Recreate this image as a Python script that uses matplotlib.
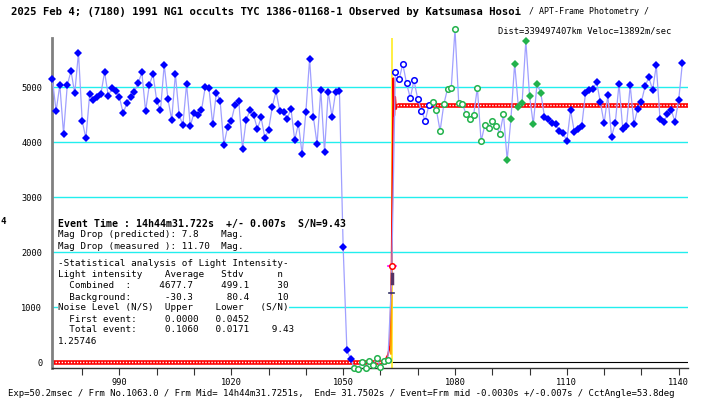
import numpy as np
import matplotlib
matplotlib.use('Agg')
import matplotlib.pyplot as plt

# light curve, one value per frame (frame numbers start at 972)
first_frame = 972
pre_event = [5140, 4564, 5036, 4151, 5036, 5290, 4885, 5624, 4382, 4067,
             4867, 4764, 4824, 4867, 5273, 4842, 4976, 4933, 4812, 4521,
             4715, 4812, 4915, 5067, 5267, 4564, 5036, 5236, 4745, 4576,
             5406, 4782, 4406, 5236, 4491, 4309, 5055, 4291, 4533, 4491,
             4576, 5000, 4982, 4321, 4897, 4745, 3945, 4273, 4388, 4673,
             4745, 3879, 4406, 4576, 4485, 4236, 4448, 4067, 4224, 4642,
             4921, 4564, 4552, 4424, 4606, 4036, 4333, 3776, 4552, 5509,
             4461, 3964, 4945, 3818, 4915, 4461, 4915, 4933,
             2085, 218, 49]
background = [-110, -125, 5, -105, 15, -55, 70, -95, 10, 45]
event_value = [1509]
combined_blue = [5279, 5140, 5418, 5067, 4800, 5121, 4782, 4570, 4388, 4667]
combined_green = [4733, 4588, 4200, 4685, 4970, 4988, 6049, 4709, 4685, 4509,
                  4424, 4491, 4988, 4012, 4309, 4255, 4388, 4297, 4151, 4503]
post_green = [3673, 4418, 5424, 4642, 4715, 5842, 4836, 4321, 5055, 4897]
post_event = [4461, 4412, 4339, 4321, 4200, 4158, 4018, 4582, 4188, 4242,
              4291, 4885, 4945, 4970, 5085, 4721, 4339, 4848, 4097, 4351,
              5061, 4230, 4297, 5030, 4321, 4606, 4733, 5018, 5176, 4945,
              5394, 4412, 4364, 4503, 4582, 4370, 4764, 5442]

# fitted model (step with small ringing)
model_frames = [971.9, 1061.0, 1062.0, 1062.6, 1063.0, 1063.45, 1063.7, 1063.95, 1064.2, 1064.5, 1142.5]
model_levels = [0, 0, 130, 300, 1750, 5160, 4480, 4820, 4600, 4677, 4677]
flat_pre = ([971.9, 1061.5], [0, 0])
flat_post = ([1064.5, 1142.5], [4677, 4677])
event_frame = 1063
event_half = 1751
event_low = 1260
event_bar = [1430, 1600]

grid_levels = [1000, 2000, 3000, 4000, 5000]
x_major = [990, 1020, 1050, 1080, 1110, 1140]
x_minor = [980, 1000, 1010, 1030, 1040, 1060, 1070, 1090, 1100, 1120, 1130]
y_ticks = [0, 1000, 2000, 3000, 4000, 5000]

groups = [pre_event, background, event_value, combined_blue, combined_green, post_green, post_event]
all_values = np.concatenate(groups)
all_frames = first_frame + np.arange(len(all_values))
starts = np.cumsum([0] + [len(g) for g in groups])
gx = [all_frames[starts[k]:starts[k + 1]] for k in range(len(groups))]

W, H = 703, 403
fig = plt.figure(figsize=(W / 100, H / 100), dpi=100)
ax = fig.add_axes([52 / W, 1 - 368 / H, 636 / W, 330 / H])
ax.set_xlim(971.9, 1142.5)
ax.set_ylim(-109, 5891)

for lv in grid_levels:
    ax.axhline(lv, color='#22eeee', lw=1.0, zorder=1)
ax.axhline(0, color='black', lw=0.8, zorder=1)
ax.axvline(event_frame, color='#ffee33', lw=1.3, zorder=2)

# model
ax.plot(model_frames, model_levels, color='red', lw=1.3, zorder=2.2)
for fx_, fy_ in (flat_pre, flat_post):
    ax.plot(fx_, fy_, color='red', lw=3.3, solid_capstyle='butt', zorder=2.3)
    ax.plot(fx_, fy_, color='white', lw=1.0, ls=(0, (1.0, 1.2)), zorder=2.4)
ax.plot([event_frame - 0.2, event_frame], [150, 1200], color='orange', lw=1.3, zorder=2.5)

# data line
ax.plot(all_frames, all_values, color='#a0a0ff', lw=0.9, zorder=3, clip_on=False)

ms = 4.0
blue = '#0000ff'
green = '#22b24c'
ax.plot(gx[0], pre_event, 'D', color=blue, ms=ms, mew=0, zorder=4, clip_on=False)
ax.plot(gx[1], background, 'o', mfc='white', mec=green, ms=ms, mew=1.1, zorder=4, clip_on=False)
ax.plot(gx[3], combined_blue, 'o', mfc='white', mec=blue, ms=ms, mew=1.1, zorder=4, clip_on=False)
ax.plot(gx[4], combined_green, 'o', mfc='white', mec=green, ms=ms, mew=1.1, zorder=4, clip_on=False)
ax.plot(gx[5], post_green, 'D', color=green, ms=ms, mew=0, zorder=4, clip_on=False)
ax.plot(gx[6], post_event, 'D', color=blue, ms=ms, mew=0, zorder=4, clip_on=False)

# event markers
ax.plot([event_frame, event_frame], event_bar, color='#553366', lw=2.5, zorder=5)
ax.plot([event_frame - 0.6, event_frame + 0.6], [event_low, event_low], color='#333366', lw=1.2, zorder=5)
ax.plot([event_frame - 1.1, event_frame + 1.1], [event_half, event_half], color='magenta', lw=1.2, zorder=5)
ax.plot([event_frame], [event_half], 'o', mfc='white', mec='red', ms=4, mew=1.1, zorder=6)

mono = 'DejaVu Sans Mono'
ax.set_xticks(x_major)
ax.set_xticks(x_minor, minor=True)
ax.set_yticks(y_ticks)
ax.tick_params(axis='x', which='both', direction='out', length=5, width=0.8, pad=2,
               labelsize=6.2, color='#333333')
ax.tick_params(axis='y', length=0, pad=7, labelsize=6.2)
for lab in ax.get_xticklabels() + ax.get_yticklabels():
    lab.set_family(mono)
for s in ('top', 'right'):
    ax.spines[s].set_visible(False)
ax.spines['left'].set_color('#808080')
ax.spines['left'].set_linewidth(2)
ax.spines['bottom'].set_color('#333333')
ax.spines['bottom'].set_linewidth(1)


def put(px, py, s, size, bold=False, ha='left', box=False):
    kw = dict(bbox=dict(fc='white', ec='none', pad=0)) if box else {}
    fig.text(px / W, 1 - py / H, s, fontsize=size, family=mono,
             weight='bold' if bold else 'normal', ha=ha, va='center', **kw)


put(11, 12, '2025 Feb 4; (7180) 1991 NG1 occults TYC 1386-01168-1 Observed by Katsumasa Hosoi', 7.7, bold=True)
put(524, 12, ' / APT-Frame Photometry /', 6.0)
put(671, 31, 'Dist=339497407km Veloc=13892m/sec', 6.3, ha='right')
put(0.5, 222, '4', 6.5, bold=True)

put(58, 224, 'Event Time : 14h44m31.722s  +/- 0.007s  S/N=9.43', 7.1, bold=True, box=True)
info_lines = [
    (235, 'Mag Drop (predicted): 7.8    Mag.'),
    (246.5, 'Mag Drop (measured ): 11.70  Mag.'),
    (263, '-Statistical analysis of Light Intensity-'),
    (274.5, 'Light intensity    Average   Stdv      n'),
    (286, '  Combined  :     4677.7     499.1     30'),
    (297, '  Background:      -30.3      80.4     10'),
    (308, 'Noise Level (N/S)  Upper    Lower   (S/N)'),
    (319, '  First event:     0.0000   0.0452'),
    (330, '  Total event:     0.1060   0.0171    9.43'),
    (341, '1.25746'),
]
for py, s in info_lines:
    put(58, py, s, 6.65, box=True)

put(8, 393, 'Exp=50.2msec / Frm No.1063.0 / Frm Mid= 14h44m31.7251s,  End= 31.7502s / '
    'Event=Frm mid -0.0030s +/-0.007s / CctAngle=53.8deg', 6.45)

fig.savefig('out.png', dpi=100)
